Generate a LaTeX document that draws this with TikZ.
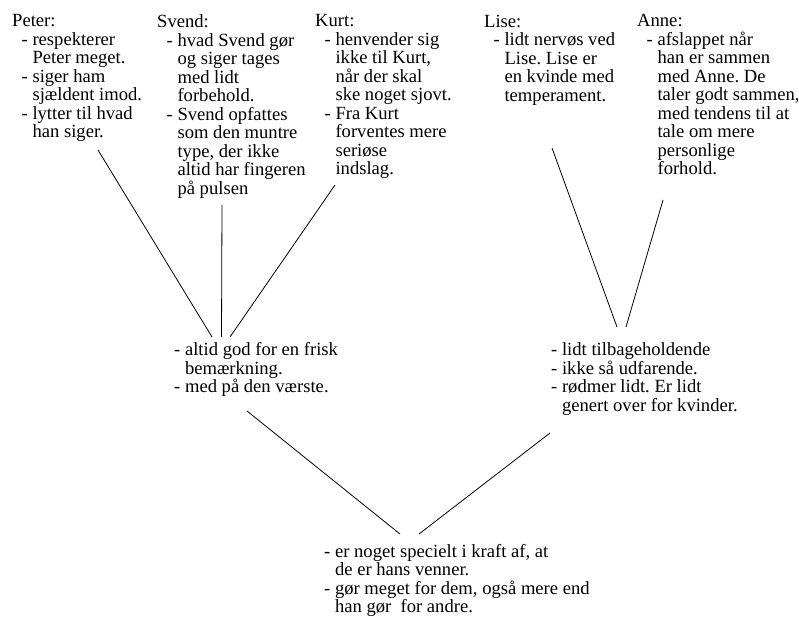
\documentclass[tikz,border=0pt]{standalone}
\usepackage{fontspec}
\setmainfont{Liberation Serif}
\usepackage{tikz}
\frenchspacing

\newcommand\pkt{\hspace*{9.5pt}- }
\newcommand\frt{\hspace*{9.5pt}\hphantom{- }}
\newcommand\ind{\hphantom{- }}

\tikzset{
  txt/.style={anchor=north west, align=left, inner sep=0pt,
    font=\fontsize{18.6}{18.5}\selectfont},
  streg/.style={line width=0.8pt}
}

\begin{document}
\begin{tikzpicture}[x=1pt,y=-1pt]
\useasboundingbox (0,0) rectangle (799,623);
\node[txt] (peter) at (12,14.5) {Peter:\\
  \pkt respekterer\\ \frt Peter meget.\\
  \pkt siger ham\\ \frt sjældent imod.\\
  \pkt lytter til hvad\\ \frt han siger.};
\node[txt] (svend) at (157,14.5) {Svend:\\
  \pkt hvad Svend gør\\ \frt og siger tages\\ \frt med lidt\\ \frt forbehold.\\
  \pkt Svend opfattes\\ \frt som den muntre\\ \frt type, der ikke\\
  \frt altid har fingeren\\ \frt på pulsen};
\node[txt] (kurt) at (315,14.5) {Kurt:\\
  \pkt henvender sig\\ \frt ikke til Kurt,\\ \frt når der skal\\ \frt ske noget sjovt.\\
  \pkt Fra Kurt\\ \frt forventes mere\\ \frt seriøse\\ \frt indslag.};
\node[txt] (lise) at (484,14.5) {Lise:\\
  \pkt lidt nervøs ved\\ \frt Lise. Lise er\\ \frt en kvinde med\\ \frt temperament.};
\node[txt] (anne) at (637,14.5) {Anne:\\
  \pkt afslappet når\\ \frt han er sammen\\ \frt med Anne. De\\ \frt taler godt sammen,\\
  \frt med tendens til at\\ \frt tale om mere\\ \frt personlige\\ \frt forhold.};

\node[txt] (drenge) at (174,342.4) {- altid god for en frisk\\ \ind bemærkning.\\
  - med på den værste.};
\node[txt] (piger) at (551,342.4) {- lidt tilbageholdende\\ - ikke så udfarende.\\
  - rødmer lidt. Er lidt\\ \ind genert over for kvinder.};
\node[txt] (han) at (324,544) {- er noget specielt i kraft af, at\\ \ind de er hans venner.\\
  - gør meget for dem, også mere end\\ \ind han gør~ for andre.};

\foreach \n/\sx/\sy/\ex in {peter/86/135.5/38, svend/65/190.5/47.5, kurt/20/170.5/56}
  \draw[streg] ([shift={(\sx,\sy)}]\n.north west) -- ([shift={(\ex,-5.4)}]drenge.north west);
\foreach \n/\sx/\sy/\ex in {lise/68/133.5/66, anne/26/185.5/75}
  \draw[streg] ([shift={(\sx,\sy)}]\n.north west) -- ([shift={(\ex,-15.4)}]piger.north west);
\draw[streg] ([shift={(73,68.6)}]drenge.north west) -- ([shift={(76,-10)}]han.north west);
\draw[streg] ([shift={(-1,90.6)}]piger.north west) -- ([shift={(95,-10)}]han.north west);
\end{tikzpicture}
\end{document}
